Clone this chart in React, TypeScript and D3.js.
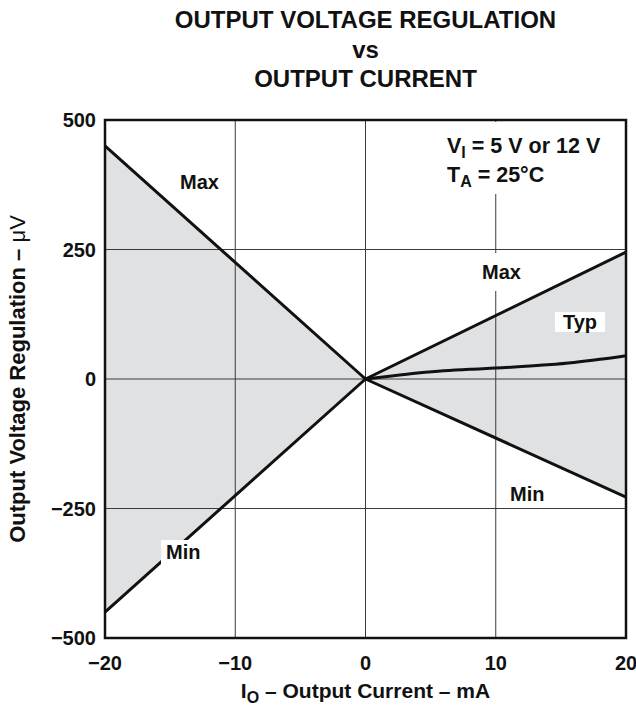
import React, { useEffect, useRef } from 'react';
import * as d3 from 'd3';

// data
const limitCurrent = [-20, 0, 20];
const maxRegulation = [450, 0, 245];
const minRegulation = [-450, 0, -228];
const typCurrent = [0, 2, 4, 6, 8, 10, 12, 14, 16, 18, 20];
const typRegulation = [0, 6, 11.5, 16, 19, 21, 24, 27.5, 32, 38, 45];

const xTicks = [-20, -10, 0, 10, 20];
const yTicks = [-500, -250, 0, 250, 500];
const xTickLabels = ['\u221220', '\u221210', '0', '10', '20'];
const yTickLabels = ['\u2212500', '\u2212250', '0', '250', '500'];
const titleLines = ['OUTPUT VOLTAGE REGULATION', 'vs', 'OUTPUT CURRENT'];

const App: React.FC = () => {
  const svgRef = useRef<SVGSVGElement>(null);

  useEffect(() => {
    if (!svgRef.current) return;
    const svg = d3.select(svgRef.current);
    svg.selectAll('*').remove();

    const width = 636;
    const height = 705;
    const margin = { top: 120, right: 10, bottom: 67, left: 105 };
    const font = '"Liberation Sans", Arial, Helvetica, sans-serif';
    const fs = 20;

    const x = d3.scaleLinear().domain([-20, 20]).range([margin.left, width - margin.right]);
    const y = d3.scaleLinear().domain([-500, 500]).range([height - margin.bottom, margin.top]);

    const g = svg.append('g').attr('font-family', font).attr('font-weight', 'bold');

    // shaded band between max and min
    const band = limitCurrent.map((c, i) => ({ c, hi: maxRegulation[i], lo: minRegulation[i] }));
    const area = d3
      .area<{ c: number; hi: number; lo: number }>()
      .x(d => x(d.c))
      .y0(d => y(d.lo))
      .y1(d => y(d.hi));
    g.append('path').datum(band).attr('d', area).attr('fill', '#e0e1e3');

    // grid
    xTicks.slice(1, -1).forEach(t => {
      g.append('line')
        .attr('x1', x(t)).attr('x2', x(t))
        .attr('y1', y(500)).attr('y2', y(-500))
        .attr('stroke', '#3a3a3a').attr('stroke-width', 1);
    });
    yTicks.slice(1, -1).forEach(t => {
      g.append('line')
        .attr('x1', x(-20)).attr('x2', x(20))
        .attr('y1', y(t)).attr('y2', y(t))
        .attr('stroke', '#3a3a3a').attr('stroke-width', 1);
    });

    // curves
    const line = d3.line<[number, number]>().x(d => x(d[0])).y(d => y(d[1]));
    const curveStyle = (p: d3.Selection<SVGPathElement, any, any, any>) =>
      p.attr('fill', 'none').attr('stroke', '#111').attr('stroke-width', 3).attr('stroke-linejoin', 'round');

    g.append('path')
      .datum(limitCurrent.map((c, i) => [c, maxRegulation[i]] as [number, number]))
      .attr('d', line)
      .call(curveStyle);
    g.append('path')
      .datum(limitCurrent.map((c, i) => [c, minRegulation[i]] as [number, number]))
      .attr('d', line)
      .call(curveStyle);
    g.append('path')
      .datum(typCurrent.map((c, i) => [c, typRegulation[i]] as [number, number]))
      .attr('d', line.curve(d3.curveMonotoneX))
      .call(curveStyle);

    // frame
    g.append('rect')
      .attr('x', x(-20)).attr('y', y(500))
      .attr('width', x(20) - x(-20)).attr('height', y(-500) - y(500))
      .attr('fill', 'none').attr('stroke', '#111').attr('stroke-width', 2.5);

    // curve labels with white backing so gridlines break around them
    const labels = [
      { text: 'Max', x: 180, y: 189, padX: 5, padY: 1 },
      { text: 'Min', x: 166, y: 559, padX: 5, padY: 1 },
      { text: 'Max', x: 482, y: 279, padX: 7, padY: 8 },
      { text: 'Typ', x: 563, y: 329, padX: 8, padY: -1 },
      { text: 'Min', x: 510, y: 501, padX: 4, padY: 1 },
    ];
    labels.forEach(l => {
      const t = g.append('text')
        .attr('x', l.x).attr('y', l.y)
        .attr('font-size', fs).attr('fill', '#111')
        .text(l.text);
      const bb = (t.node() as SVGTextElement).getBBox();
      g.insert('rect', () => t.node())
        .attr('x', bb.x - l.padX).attr('y', bb.y - l.padY)
        .attr('width', bb.width + 2 * l.padX).attr('height', bb.height + 2 * l.padY)
        .attr('fill', '#fff');
    });

    // conditions note
    const note = g.append('g');
    note.append('rect').attr('x', 438).attr('y', 122).attr('width', 175).attr('height', 72).attr('fill', '#fff');
    const n1 = note.append('text').attr('x', 447).attr('y', 153).attr('font-size', 21.5).attr('fill', '#111');
    n1.append('tspan').text('V');
    n1.append('tspan').attr('font-size', 16).attr('dy', 5).text('I');
    n1.append('tspan').attr('dy', -5).text(' = 5 V or 12 V');
    const n2 = note.append('text').attr('x', 447).attr('y', 182).attr('font-size', 21.5).attr('fill', '#111');
    n2.append('tspan').text('T');
    n2.append('tspan').attr('font-size', 16).attr('dy', 5).text('A');
    n2.append('tspan').attr('dy', -5).text(' = 25\u00B0C');

    // tick labels
    xTicks.forEach((t, i) => {
      g.append('text')
        .attr('x', x(t)).attr('y', 670)
        .attr('text-anchor', 'middle').attr('font-size', fs).attr('fill', '#111')
        .text(xTickLabels[i]);
    });
    yTicks.forEach((t, i) => {
      g.append('text')
        .attr('x', 96).attr('y', y(t) + 7)
        .attr('text-anchor', 'end').attr('font-size', fs).attr('fill', '#111')
        .text(yTickLabels[i]);
    });

    // axis titles
    const xt = g.append('text')
      .attr('x', x(0)).attr('y', 698)
      .attr('text-anchor', 'middle').attr('font-size', 21).attr('fill', '#111');
    xt.append('tspan').text('I');
    xt.append('tspan').attr('font-size', 16).attr('dy', 5).text('O');
    xt.append('tspan').attr('dy', -5).text(' \u2013 Output Current \u2013 mA');

    const yt = g.append('text')
      .attr('transform', `translate(25,${y(0)}) rotate(-90)`)
      .attr('text-anchor', 'middle').attr('font-size', 22).attr('fill', '#111');
    yt.append('tspan').text('Output Voltage Regulation \u2013  ');
    yt.append('tspan').attr('font-weight', 'normal').text('\u03BCV');

    // title
    titleLines.forEach((s, i) => {
      g.append('text')
        .attr('x', x(0)).attr('y', [28, 58, 87][i])
        .attr('text-anchor', 'middle').attr('font-size', 24).attr('fill', '#111')
        .text(s);
    });
  }, []);

  return (
    <svg
      ref={svgRef}
      width="636"
      height="705"
      style={{ position: 'absolute', left: 0, top: 0, background: '#fff' }}
      role="img"
      aria-label="Output voltage regulation vs output current"
    />
  );
};

export default App;
